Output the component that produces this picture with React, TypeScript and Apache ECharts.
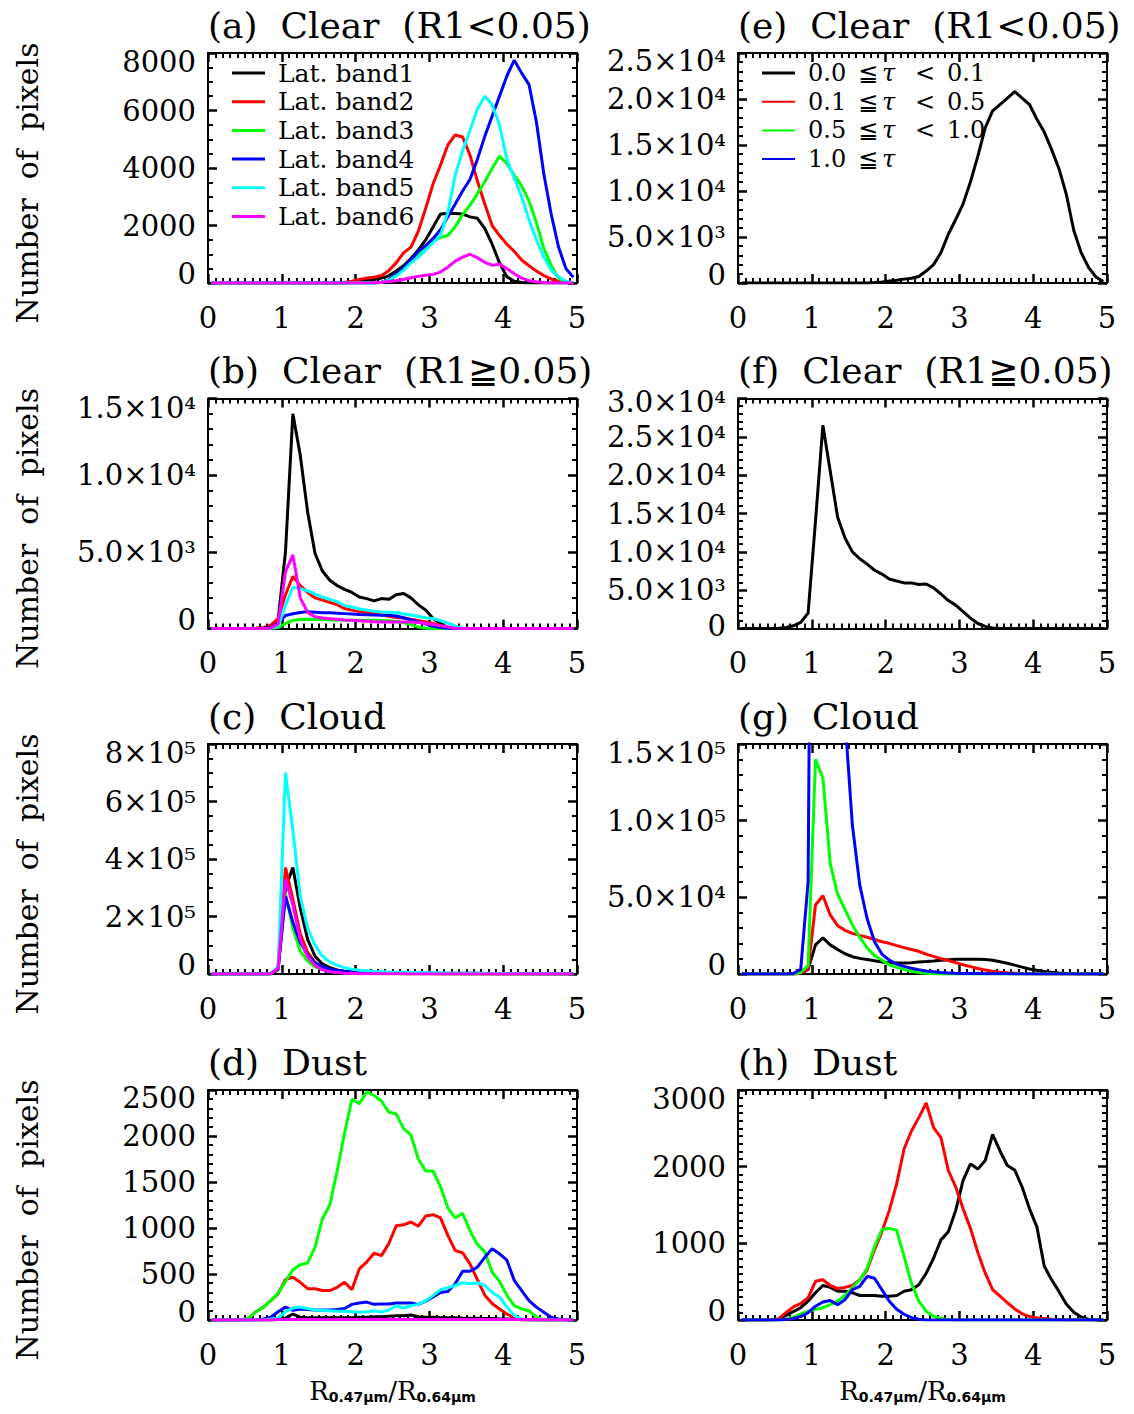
import React, { useEffect, useRef } from "react";
import * as echarts from "echarts";

// Bin centres of R0.47/R0.64
const X = [0.05,0.15,0.25,0.35,0.45,0.55,0.65,0.75,0.85,0.95,1.05,1.15,1.25,1.35,1.45,1.55,1.65,1.75,1.85,1.95,2.05,2.15,2.25,2.35,2.45,2.55,2.65,2.75,2.85,2.95,3.05,3.15,3.25,3.35,3.45,3.55,3.65,3.75,3.85,3.95,4.05,4.15,4.25,4.35,4.45,4.55,4.65,4.75,4.85,4.95];

// (a) Clear (R1<0.05), latitude bands 1..6
const A1 = [0,0,0,0,0,0,0,0,0,0, 0,0,0,0,0,0,0,0,0,20, 50,100,120,170,250,420,600,850,1150,1500, 1950,2400,2420,2420,2400,2300,2250,1900,1350,700, 220,60,15,0,0,0,0,0,0,0];
const A2 = [0,0,0,0,0,0,0,0,0,0, 0,0,0,0,0,0,0,0,20,60, 120,170,200,260,430,700,1050,1250,1800,2600, 3450,4100,4800,5150,5080,4450,3550,2750,2000,1650, 1350,1100,800,600,420,260,140,60,20,5];
const A3 = [0,0,0,0,0,0,0,0,0,0, 0,0,0,0,0,0,0,0,0,0, 0,0,0,30,100,270,500,750,1000,1250, 1480,1580,1650,1960,2380,2700,3100,3520,3980,4420, 4150,3750,3380,2850,2100,1200,620,160,30,5];
const A4 = [0,0,0,0,0,0,0,0,0,0, 0,0,0,0,0,0,0,0,0,0, 0,0,0,20,120,300,520,800,1100,1300, 1550,1850,2300,2750,3200,3600,4300,5100,5800,6500, 7200,7750,7300,6900,5600,3800,2400,1250,500,200];
const A5 = [0,0,0,0,0,0,0,0,0,0, 0,0,0,0,0,0,0,0,0,0, 0,0,0,30,100,250,450,700,900,1150, 1400,1650,2450,3750,4600,5300,6050,6500,6200,5500, 4300,3650,3000,2200,1500,900,450,220,60,10];
const A6 = [0,0,0,0,0,0,0,0,0,0, 0,0,0,0,0,0,0,0,0,0, 0,0,10,30,50,80,120,180,230,270, 300,380,550,760,900,1000,880,720,620,650, 500,320,170,80,40,15,0,0,0,0];

// (b) Clear (R1>=0.05)
const B1 = [0,0,0,0,0,0,10,40,200,550, 5000,14000,11300,7600,4900,3750,3150,2800,2550,2350, 2050,1950,1800,1950,1900,2200,2280,2000,1550,1200, 650,320,60,10,0,0,0,0,0,0, 0,0,0,0,0,0,0,0,0,0];
const B2 = [0,0,0,0,0,0,10,50,200,650, 2200,3400,2800,2350,2000,1850,1700,1550,1300,1200, 1100,1030,980,900,800,720,680,600,530,430, 330,200,100,30,5,0,0,0,0,0, 0,0,0,0,0,0,0,0,0,0];
const B3 = [0,0,0,0,0,0,0,0,10,60, 330,530,580,600,590,580,560,550,540,540, 540,540,530,520,500,450,380,250,90,10, 0,0,0,0,0,0,0,0,0,0, 0,0,0,0,0,0,0,0,0,0];
const B4 = [0,0,0,0,0,0,0,20,60,350, 850,960,1040,1100,1060,1020,1020,1000,970,940, 910,890,880,870,860,820,700,560,420,290, 160,60,15,0,0,0,0,0,0,0, 0,0,0,0,0,0,0,0,0,0];
const B5 = [0,0,0,0,0,0,0,0,20,150, 1500,2700,2600,2450,2250,2050,1900,1750,1500,1400, 1270,1200,1130,1080,1060,1040,950,880,780,700, 650,520,350,150,20,0,0,0,0,0, 0,0,0,0,0,0,0,0,0,0];
const B6 = [0,0,0,0,0,0,0,0,20,300, 3700,4800,2000,1050,760,680,640,600,560,540, 500,470,440,430,430,430,430,420,390,330, 260,180,100,20,0,0,0,0,0,0, 0,0,0,0,0,0,0,0,0,0];

// (c) Cloud
const C1 = [0,0,0,0,0,0,0,0,500,15000, 300000,370000,230000,120000,62000,35000,22000,14000,10000,7000, 5500,4500,4000,3500,3000,2700,2400,2100,1800,1600, 1400,1200,1000,900,800,700,600,500,450,400, 350,300,260,220,190,160,130,100,80,60];
const C2 = [0,0,0,0,0,0,0,0,1000,20000, 370000,260000,140000,75000,40000,22000,13000,8000,5500,4000, 3000,2500,2200,1900,1700,1500,1300,1100,1000,900, 800,700,600,500,450,400,350,300,250,200, 170,140,110,90,70,50,40,30,20,10];
const C3 = [0,0,0,0,0,0,0,0,1000,20000, 280000,160000,80000,45000,25000,15000,9000,6000,4000,3000, 2200,1800,1500,1300,1100,1000,900,800,700,600, 500,450,400,350,300,250,200,180,160,140, 120,100,80,60,50,40,30,20,10,5];
const C4 = [0,0,0,0,0,0,0,0,1000,20000, 270000,180000,110000,65000,40000,25000,17000,12000,9000,7000, 6000,5200,4600,4200,3900,3600,3400,3200,3000,2900, 2800,2700,2600,2500,2400,2300,2200,2100,2000,1900, 1800,1700,1600,1500,1400,1300,1200,1100,1000,900];
const C5 = [0,0,0,0,0,0,0,0,1000,25000, 700000,500000,270000,160000,100000,62000,42000,30000,22000,17000, 13000,11000,9000,8000,7000,6500,6000,5500,5000,4500, 4000,3500,3200,3000,2800,2600,2400,2200,2000,1800, 1600,1400,1300,1200,1100,1000,900,800,700,600];
const C6 = [0,0,0,0,0,0,0,0,1000,20000, 330000,240000,120000,60000,30000,15000,8000,5000,3000,2000, 1500,1200,1000,800,700,600,500,400,350,300, 250,200,170,140,120,100,80,70,60,50, 40,30,25,20,15,10,10,5,5,0];

// (d) Dust
const D1 = [0,0,0,0,0,0,0,0,0,5, 20,65,30,25,25,25,25,25,25,25, 30,30,35,35,40,45,45,55,35,30, 30,25,25,25,20,20,20,15,15,10, 10,5,5,0,0,0,0,0,0,0];
const D2 = [0,0,0,0,0,20,90,140,210,285, 440,465,410,340,340,320,320,355,410,330, 555,630,725,700,830,1025,1035,1065,1020,1130, 1145,1110,920,755,730,610,440,270,180,120, 65,25,0,0,0,0,0,0,0,0];
const D3 = [0,0,0,0,0,20,90,140,210,290, 420,545,600,620,790,1100,1250,1620,2030,2400, 2350,2480,2440,2380,2260,2240,2080,2010,1750,1620, 1620,1450,1220,1110,1160,970,820,740,520,420, 270,155,120,100,30,0,0,0,0,0];
const D4 = [0,0,0,0,0,0,0,10,30,90, 140,105,120,115,110,110,110,115,125,170, 185,195,170,175,175,185,185,185,170,205, 250,300,310,395,530,530,575,680,775,720, 650,430,320,210,140,85,30,10,0,0];
const D5 = [0,0,0,0,0,0,0,0,10,20, 90,130,140,125,110,105,100,95,95,90, 85,90,100,85,110,155,130,155,170,210, 265,330,350,375,405,395,405,375,300,250, 140,50,10,0,0,0,0,0,0,0];
const D6 = [0,0,0,0,0,0,0,0,0,5, 5,5,5,5,5,5,5,5,5,5, 5,5,5,5,5,5,5,5,5,5, 5,5,5,5,5,5,5,5,5,5, 5,5,5,5,5,0,0,0,0,0];

// (e) Clear (R1<0.05), optical-depth classes
const E1 = [0,0,0,0,0,0,0,0,0,0, 0,0,0,0,0,0,0,0,50,120, 220,300,420,520,700,1300,2000,3300,5300,6900, 8600,11000,13800,16900,18700,19400,20100,20800,20100,19400, 17800,16400,14500,12400,9600,5700,3300,1700,650,150];

// (f) Clear (R1>=0.05)
const F1 = [0,0,0,0,0,20,120,350,800,2000, 14000,26500,20500,14500,11800,10000,9100,8400,7600,7100, 6450,6200,5950,5950,5750,5800,5300,4500,3650,3050, 2200,1350,650,280,60,0,0,0,0,0, 0,0,0,0,0,0,0,0,0,0];

// (g) Cloud
const G1 = [0,0,0,0,0,0,0,0,300,3000, 19000,23500,19000,16000,13200,11300,10200,9400,8600,7800, 7400,7100,7200,7400,7800,8100,8500,9000,9300,9600, 9700,9700,9700,9500,9000,8000,7000,5800,4500,3300, 2400,1700,1100,700,400,200,80,30,10,0];
const G2 = [0,0,0,0,0,0,0,0,500,3000, 45000,51000,38500,31500,28500,26500,25200,24000,22500,21000, 20000,18500,17200,16000,14800,13000,11500,10000,8800,7400, 6000,4800,3600,2600,1800,1200,800,500,300,150, 80,40,20,10,0,0,0,0,0,0];
const G3 = [0,0,0,0,0,0,0,0,1000,5500, 140000,128000,72000,52000,42000,32000,24000,17000,12000,9000, 6000,4300,3000,1800,1000,500,200,50,0,0, 0,0,0,0,0,0,0,0,0,0, 0,0,0,0,0,0,0,0,0,0];
const G4 = [0,0,0,0,0,0,0,300,3000,60000, 720000,500000,330000,230000,166000,97000,58000,36000,21000,13000, 9000,6500,5000,3800,2800,2000,1500,1000,700,500, 400,300,250,200,150,120,100,80,60,50, 40,30,20,10,10,0,0,0,0,0];

// (h) Dust
const H1 = [0,0,0,0,0,10,60,110,160,245, 355,450,425,375,375,355,320,320,320,310, 310,320,375,395,460,610,805,1045,1150,1430, 1820,2035,1970,2080,2420,2205,2015,1955,1735,1450, 1215,700,525,370,205,100,40,10,0,0];
const H2 = [0,0,0,0,0,15,95,170,215,290, 505,525,450,410,425,450,525,655,915,1150, 1430,1775,2230,2465,2640,2830,2510,2380,1950,1735, 1450,1195,880,610,395,310,225,145,80,45, 30,20,10,5,0,0,0,0,0,0];
const H3 = [0,0,0,0,0,0,10,40,75,115, 140,160,200,245,320,420,525,675,955,1180, 1195,1170,830,480,245,115,50,20,5,0, 0,0,0,0,0,0,0,0,0,0, 0,0,0,0,0,0,0,0,0,0];
const H4 = [0,0,0,0,0,0,5,20,45,95, 180,235,255,200,265,395,440,570,545,395, 245,140,75,30,10,0,0,0,0,0, 0,0,0,0,0,0,0,0,0,0, 0,0,0,0,0,0,0,0,0,0];

const X_TICKS = [0, 1, 2, 3, 4, 5];
const X_MINOR = 10;
const LAT_LABELS = ["Lat. band1", "Lat. band2", "Lat. band3", "Lat. band4", "Lat. band5", "Lat. band6"];
const TAU_LOW = ["0.0", "0.1", "0.5", "1.0"];
const TAU_HIGH = ["0.1", "0.5", "1.0", ""];
const TITLES = ["(a)  Clear  (R1<0.05)", "(b)  Clear  (R1\u22670.05)", "(c)  Cloud", "(d)  Dust",
  "(e)  Clear  (R1<0.05)", "(f)  Clear  (R1\u22670.05)", "(g)  Cloud", "(h)  Dust"];

const K = "#000000", R = "#ff0000", G = "#00ff00", B = "#0000ff", CY = "#00ffff", MG = "#ff00ff";
const LAT_COLORS = [K, R, G, B, CY, MG];
const TAU_COLORS = [K, R, G, B];

const FONT = "'DejaVu Serif', 'DejaVu Sans', 'Noto Sans CJK JP', serif";
const SUP: Record<string, string> = { "0": "\u2070", "1": "\u00b9", "2": "\u00b2", "3": "\u00b3", "4": "\u2074", "5": "\u2075", "6": "\u2076", "7": "\u2077", "8": "\u2078", "9": "\u2079" };

type Panel = { col: number; row: number; yMax: number; yInt: number; yMinor: number; lh: number; fmt: (v: number) => string; series: [number[], string][] };

const plain = (v: number) => `${v}`;
const sci = (dec: number) => (v: number) => {
  if (v === 0) return "0";
  const e = Math.floor(Math.log10(v) + 1e-9);
  const m = v / Math.pow(10, e);
  return `${m.toFixed(dec)}\u00d710${String(e).split("").map((c) => SUP[c]).join("")}`;
};

const PANELS: Panel[] = [
  { col: 0, row: 0, yMax: 8000, yInt: 2000, yMinor: 4, lh: 18, fmt: plain, series: [[A1, K], [A2, R], [A3, G], [A4, B], [A5, CY], [A6, MG]] },
  { col: 0, row: 1, yMax: 15000, yInt: 5000, yMinor: 5, lh: 18, fmt: sci(1), series: [[B1, K], [B2, R], [B3, G], [B4, B], [B5, CY], [B6, MG]] },
  { col: 0, row: 2, yMax: 800000, yInt: 200000, yMinor: 4, lh: 18, fmt: sci(0), series: [[C1, K], [C2, R], [C3, G], [C4, B], [C5, CY], [C6, MG]] },
  { col: 0, row: 3, yMax: 2500, yInt: 500, yMinor: 5, lh: 16, fmt: plain, series: [[D1, K], [D2, R], [D3, G], [D4, B], [D5, CY], [D6, MG]] },
  { col: 1, row: 0, yMax: 25000, yInt: 5000, yMinor: 5, lh: 16, fmt: sci(1), series: [[E1, K]] },
  { col: 1, row: 1, yMax: 30000, yInt: 5000, yMinor: 5, lh: 6, fmt: sci(1), series: [[F1, K]] },
  { col: 1, row: 2, yMax: 150000, yInt: 50000, yMinor: 5, lh: 18, fmt: sci(1), series: [[G1, K], [G2, R], [G3, G], [G4, B]] },
  { col: 1, row: 3, yMax: 3000, yInt: 1000, yMinor: 10, lh: 18, fmt: plain, series: [[H1, K], [H2, R], [H3, G], [H4, B]] },
];

const COL_LEFT = [208, 738];
const ROW_TOP = [53, 398.5, 744, 1090];
const GW = 369, GH = 230;

function buildOption() {
  const grids: any[] = [], xAxes: any[] = [], yAxes: any[] = [], series: any[] = [];
  PANELS.forEach((p, k) => {
    grids.push({ left: COL_LEFT[p.col], top: ROW_TOP[p.row], width: GW, height: GH, containLabel: false });
    const line = () => ({ show: true, onZero: false, lineStyle: { color: "#000", width: 2 } });
    const major = () => ({ show: true, inside: true, length: 9, lineStyle: { color: "#000", width: 2.5 } });
    const minor = (n: number) => ({ show: true, splitNumber: n, length: 5, lineStyle: { color: "#000", width: 2 } });
    const xBase = () => ({ type: "value", gridIndex: k, min: X_TICKS[0], max: X_TICKS[X_TICKS.length - 1], interval: 1,
      axisLine: line(), axisTick: major(), minorTick: minor(X_MINOR), splitLine: { show: false }, minorSplitLine: { show: false } });
    xAxes.push({ ...xBase(), position: "bottom",
      axisLabel: { show: true, margin: 20, color: "#000", fontFamily: FONT, fontSize: 29, showMinLabel: true, showMaxLabel: true } });
    xAxes.push({ ...xBase(), position: "top", axisLabel: { show: false } });
    const yBase = () => ({ type: "value", gridIndex: k, min: 0, max: p.yMax, interval: p.yInt,
      axisLine: line(), axisTick: major(), minorTick: minor(p.yMinor), splitLine: { show: false }, minorSplitLine: { show: false } });
    yAxes.push({ ...yBase(), position: "left",
      axisLabel: { show: true, margin: 12, formatter: p.fmt, fontFamily: FONT, fontSize: 29, lineHeight: p.lh, color: "#000",
        showMinLabel: true, showMaxLabel: true, hideOverlap: false, minMargin: 0,
        verticalAlignMinLabel: "bottom", verticalAlignMaxLabel: "top" } });
    yAxes.push({ ...yBase(), position: "right", axisLabel: { show: false } });
    p.series.forEach(([arr, color]) => {
      series.push({ type: "line", xAxisIndex: 2 * k, yAxisIndex: 2 * k, data: X.map((x, i) => [x, arr[i]]),
        symbol: "none", showSymbol: false, clip: true, silent: true,
        lineStyle: { color, width: 3 }, itemStyle: { color } });
    });
  });

  const graphic: any[] = [];
  PANELS.forEach((p, k) => {
    graphic.push({ type: "text", x: COL_LEFT[p.col], y: ROW_TOP[p.row] - 28, silent: true,
      style: { text: TITLES[k], fontFamily: FONT, fontSize: 36, fill: "#000", align: "left", verticalAlign: "middle" } });
  });
  ROW_TOP.forEach((t) => {
    graphic.push({ type: "text", x: 27, y: t + GH / 2 + 15, rotation: Math.PI / 2, silent: true,
      style: { text: "Number  of  pixels", fontFamily: FONT, fontSize: 30, fill: "#000", align: "center", verticalAlign: "middle" } });
  });
  const xRich = {
    r: { fontFamily: FONT, fontSize: 26, fill: "#000" },
    s: { fontFamily: "'DejaVu Sans', sans-serif", fontSize: 14, fontWeight: "bold", fill: "#000", verticalAlign: "bottom" },
  };
  COL_LEFT.forEach((l) => {
    graphic.push({ type: "text", x: l + GW / 2, y: 1391, silent: true,
      style: { text: "{r|R}{s|0.47\u03bcm}{r|/R}{s|0.64\u03bcm}", rich: xRich, align: "center", verticalAlign: "middle" } });
  });
  LAT_LABELS.forEach((lab, i) => {
    const y = 73 + 28.7 * i;
    graphic.push({ type: "line", silent: true, shape: { x1: 232, y1: y, x2: 265, y2: y }, style: { stroke: LAT_COLORS[i], lineWidth: 3 } });
    graphic.push({ type: "text", x: 278, y, silent: true, style: { text: lab, fontFamily: FONT, fontSize: 25, fill: "#000", align: "left", verticalAlign: "middle" } });
  });
  TAU_LOW.forEach((lo, i) => {
    const y = 73 + 28.7 * i;
    graphic.push({ type: "line", silent: true, shape: { x1: 762, y1: y, x2: 795, y2: y }, style: { stroke: TAU_COLORS[i], lineWidth: i === 0 ? 3 : 2 } });
    const t = (x: number, s: string, italic = false) => graphic.push({ type: "text", x, y, silent: true,
      style: { text: s, fontFamily: FONT, fontSize: 24, fontStyle: italic ? "italic" : "normal", fill: "#000", align: "left", verticalAlign: "middle" } });
    t(808, lo);
    t(858, "\u2266");
    t(882, "\u03c4", true);
    if (TAU_HIGH[i]) { t(915, "<"); t(947, TAU_HIGH[i]); }
  });

  return { animation: false, backgroundColor: "#ffffff", grid: grids, xAxis: xAxes, yAxis: yAxes, series, graphic };
}

export default function App() {
  const ref = useRef<HTMLDivElement>(null);
  useEffect(() => {
    document.body.style.margin = "0";
    const chart = echarts.init(ref.current!, undefined, { renderer: "svg" });
    chart.setOption(buildOption() as any);
    return () => chart.dispose();
  }, []);
  return <div ref={ref} style={{ position: "absolute", left: 0, top: 0, width: 1134, height: 1414, background: "#fff" }} />;
}
